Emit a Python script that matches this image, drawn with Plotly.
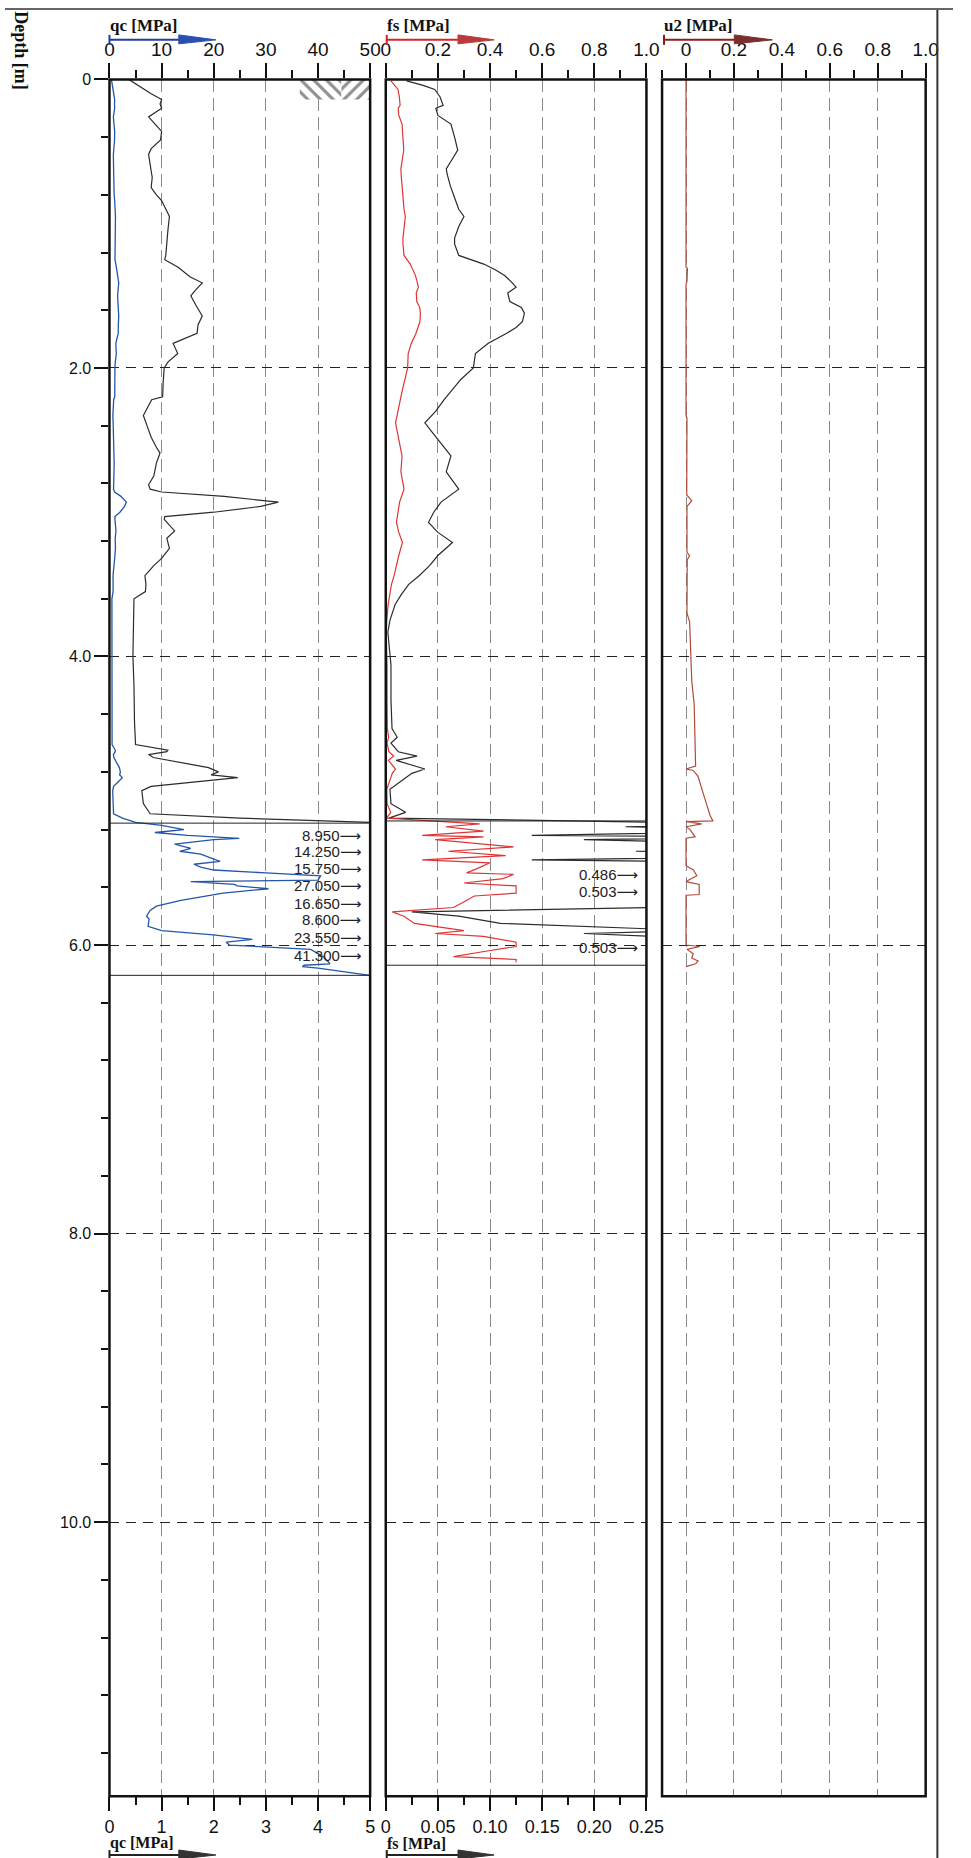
import plotly.graph_objects as go

W, H = 971, 1858

# ---------------- data ----------------
qc_depth = [0.00, 0.03, 0.06, 0.10, 0.14, 0.17, 0.20, 0.26, 0.30, 0.36, 0.42, 0.48, 0.52, 0.60, 0.68,
            0.75, 0.80, 0.84, 0.95, 1.05, 1.15, 1.22, 1.25, 1.30, 1.37, 1.41, 1.46, 1.50, 1.56, 1.64,
            1.70, 1.76, 1.83, 1.90, 1.96, 2.00, 2.10, 2.20, 2.22, 2.30, 2.33, 2.40, 2.48, 2.55, 2.59,
            2.66, 2.75, 2.81, 2.84, 2.86, 2.89, 2.93, 2.96, 3.00, 3.03, 3.05, 3.13, 3.18, 3.25, 3.32,
            3.37, 3.44, 3.50, 3.55, 3.60, 3.80, 4.00, 4.20, 4.29, 4.45, 4.61, 4.65, 4.66, 4.68, 4.70,
            4.77, 4.80, 4.82, 4.84, 4.86, 4.90, 4.93, 5.02, 5.09, 5.12, 5.15, 5.17, 5.20, 5.22, 5.24,
            5.26, 5.27, 5.30, 5.33, 5.35, 5.37, 5.42, 5.44, 5.46, 5.48, 5.50, 5.52, 5.55, 5.56, 5.58,
            5.59, 5.61, 5.64, 5.69, 5.73, 5.76, 5.80, 5.82, 5.87, 5.90, 5.93, 5.96, 5.98, 6.00, 6.03,
            6.08, 6.13, 6.14, 6.15, 6.16, 6.21]
qc_value = [0.37, 0.50, 0.62, 0.80, 1.00, 0.97, 1.00, 0.75, 0.85, 1.00, 0.98, 0.80, 0.75, 0.78, 0.82,
            0.80, 0.90, 1.00, 1.15, 1.12, 1.10, 1.08, 1.06, 1.31, 1.55, 1.78, 1.65, 1.56, 1.65, 1.78,
            1.70, 1.68, 1.22, 1.31, 1.12, 1.05, 1.03, 1.02, 0.81, 0.70, 0.65, 0.72, 0.80, 0.90, 0.97,
            0.90, 0.85, 0.75, 0.78, 1.00, 2.20, 3.24, 2.90, 2.00, 1.06, 1.05, 1.25, 1.10, 1.15, 1.00,
            0.85, 0.68, 0.70, 0.69, 0.47, 0.46, 0.45, 0.47, 0.47, 0.48, 0.50, 1.12, 1.10, 0.75, 0.84,
            1.90, 2.09, 1.95, 2.46, 1.93, 0.80, 0.62, 0.65, 0.78, 2.50, 5.00, 10.0, 14.3, 8.7, 15.0,
            24.9, 20.0, 12.5, 15.6, 13.5, 17.5, 21.2, 16.2, 17.5, 20.0, 30.0, 40.5, 40.0, 15.6, 24.0,
            24.5, 30.5, 21.8, 13.7, 9.0, 7.8, 7.1, 7.6, 7.4, 10.0, 19.9, 27.4, 22.4, 23.0, 38.6,
            41.0, 42.3, 37.3, 37.0, 40.0, 50.0]

fs_depth = [0.01, 0.04, 0.07, 0.12, 0.18, 0.20, 0.25, 0.31, 0.40, 0.49, 0.55, 0.62, 0.66, 0.74, 0.82,
            0.90, 0.95, 1.02, 1.10, 1.14, 1.22, 1.28, 1.32, 1.36, 1.40, 1.44, 1.48, 1.54, 1.58, 1.62,
            1.68, 1.72, 1.76, 1.83, 1.90, 2.00, 2.08, 2.15, 2.22, 2.30, 2.38, 2.45, 2.52, 2.61, 2.72,
            2.80, 2.84, 2.93, 3.00, 3.07, 3.14, 3.21, 3.30, 3.37, 3.44, 3.50, 3.57, 3.64, 3.75, 3.83,
            3.92, 4.06, 4.30, 4.50, 4.56, 4.60, 4.66, 4.69, 4.72, 4.78, 4.81, 4.86, 4.92, 5.02, 5.08,
            5.12, 5.16, 5.18, 5.21, 5.24, 5.25, 5.27, 5.32, 5.35, 5.38, 5.41, 5.43, 5.47, 5.50, 5.51,
            5.54, 5.57, 5.59, 5.64, 5.66, 5.71, 5.74, 5.77, 5.80, 5.85, 5.90, 5.92, 5.94, 5.98, 6.01,
            6.05, 6.08, 6.10, 6.12]
fs_value = [0.020, 0.035, 0.047, 0.052, 0.055, 0.048, 0.050, 0.0625, 0.066, 0.069, 0.064, 0.058, 0.059,
            0.062, 0.066, 0.070, 0.075, 0.070, 0.066, 0.066, 0.070, 0.094, 0.105, 0.114, 0.120, 0.125,
            0.117, 0.119, 0.130, 0.133, 0.131, 0.125, 0.116, 0.098, 0.086, 0.084, 0.072, 0.064, 0.056,
            0.048, 0.0375, 0.045, 0.053, 0.0625, 0.058, 0.066, 0.070, 0.053, 0.046, 0.041, 0.050, 0.064,
            0.050, 0.042, 0.032, 0.022, 0.015, 0.009, 0.004, 0.002, 0.003, 0.005, 0.005, 0.006, 0.011,
            0.005, 0.012, 0.030, 0.010, 0.0375, 0.025, 0.015, 0.004, 0.005, 0.019, 0.003, 0.36, 0.23,
            0.375, 0.14, 0.375, 0.19, 0.49, 0.24, 0.46, 0.14, 0.40, 0.35, 0.31, 0.49, 0.45, 0.30, 0.50,
            0.50, 0.34, 0.29, 0.26, 0.025, 0.07, 0.11, 0.30, 0.19, 0.375, 0.50, 0.50, 0.36, 0.26, 0.50,
            0.50]

u2_depth = [0.00, 1.30, 1.31, 1.40, 1.42, 2.33, 2.35, 2.50, 2.88, 2.92, 2.96, 3.28, 3.30, 3.33, 3.70,
            3.76, 4.17, 4.33, 4.61, 4.76, 4.78, 4.79, 4.83, 4.88, 4.95, 5.02, 5.10, 5.14, 5.145, 5.16,
            5.18, 5.20, 5.22, 5.25, 5.26, 5.45, 5.48, 5.52, 5.56, 5.58, 5.65, 5.655, 6.00, 6.01, 6.03,
            6.06, 6.09, 6.11, 6.13, 6.15]
u2_value = [0.0, 0.0, 0.006, 0.004, 0.0, 0.0, 0.004, 0.003, 0.003, 0.024, 0.004, 0.004, 0.015, 0.005,
            0.004, 0.015, 0.024, 0.034, 0.038, 0.040, 0.0, 0.030, 0.050, 0.058, 0.072, 0.085, 0.100,
            0.112, 0.0, 0.065, 0.0, 0.017, 0.024, 0.038, 0.0, 0.0, 0.031, 0.045, 0.0, 0.055, 0.055,
            0.0, 0.0, 0.058, 0.004, 0.030, 0.024, 0.050, 0.040, 0.0]

# values beyond the expanded scales, printed inside the boxes
qc_label_depth = [5.24, 5.35, 5.47, 5.59, 5.71, 5.82, 5.95, 6.07]
qc_label_text = ["8.950", "14.250", "15.750", "27.050", "16.650", "8.600", "23.550", "41.300"]
fs_label_depth = [5.51, 5.63, 6.02]
fs_label_text = ["0.486", "0.503", "0.503"]
qc_box_depth = [5.155, 6.21]
fs_box_depth = [5.14, 6.14]

# soil symbol at the top of the qc column (qc top scale, depth)
hatch_a_x = [36.5, 44.5, 44.5, 36.5, 36.5]
hatch_b_x = [44.5, 50.0, 50.0, 44.5, 44.5]
hatch_y = [0.0, 0.0, 0.14, 0.14, 0.0]

depth_ticks = [0, 2, 4, 6, 8, 10]
depth_ticktext = ["0", "2.0", "4.0", "6.0", "8.0", "10.0"]
qc_top_ticks = [0, 10, 20, 30, 40, 50]
qc_bot_ticks = [0, 1, 2, 3, 4, 5]
fs_top_ticks = [0, 0.2, 0.4, 0.6, 0.8, 1.0]
fs_top_text = ["0", "0.2", "0.4", "0.6", "0.8", "1.0"]
fs_bot_ticks = [0, 0.05, 0.10, 0.15, 0.20, 0.25]
fs_bot_text = ["0", "0.05", "0.10", "0.15", "0.20", "0.25"]
u2_ticks = [0, 0.2, 0.4, 0.6, 0.8, 1.0]
u2_text = ["0", "0.2", "0.4", "0.6", "0.8", "1.0"]

# ---------------- layout helpers ----------------
def px(x):
    return x / W

def py(y):
    return 1 - y / H

D1 = [px(107), px(374)]
D2 = [px(390), px(657)]
D3 = [px(673), px(943)]
DY = [py(1796), py(71.7)]
DEPTH_MAX = 11.9

TOPFONT = dict(family="Liberation Sans, Arial, sans-serif", size=19, color="#111")
BOTFONT = dict(family="Liberation Sans, Arial, sans-serif", size=18, color="#111")
SERIF = "Liberation Serif, Times New Roman, serif"
BLACK = "#2b2b2b"
BLUE = "#2456a8"
RED = "#e03434"
U2C = "#b04a38"

fig = go.Figure()

fig.add_trace(go.Scatter(x=hatch_a_x, y=hatch_y, xaxis="x2", yaxis="y", mode="none", fill="toself",
                         fillcolor="rgba(255,255,255,0)",
                         fillpattern=dict(shape="\\", fgcolor="#222", bgcolor="white", size=9, solidity=0.35),
                         hoverinfo="skip"))
fig.add_trace(go.Scatter(x=hatch_b_x, y=hatch_y, xaxis="x2", yaxis="y", mode="none", fill="toself",
                         fillcolor="rgba(255,255,255,0)",
                         fillpattern=dict(shape="/", fgcolor="#222", bgcolor="white", size=9, solidity=0.35),
                         hoverinfo="skip"))

fig.add_trace(go.Scatter(x=qc_value, y=qc_depth, xaxis="x", yaxis="y", mode="lines",
                         line=dict(color=BLACK, width=1.2)))
fig.add_trace(go.Scatter(x=qc_value, y=qc_depth, xaxis="x2", yaxis="y", mode="lines",
                         line=dict(color=BLUE, width=1.3)))
fig.add_trace(go.Scatter(x=fs_value, y=fs_depth, xaxis="x3", yaxis="y2", mode="lines",
                         line=dict(color=BLACK, width=1.2)))
fig.add_trace(go.Scatter(x=fs_value, y=fs_depth, xaxis="x4", yaxis="y2", mode="lines",
                         line=dict(color=RED, width=1.2)))
fig.add_trace(go.Scatter(x=u2_value, y=u2_depth, xaxis="x5", yaxis="y3", mode="lines",
                         line=dict(color=U2C, width=1.2)))

def xax(domain, rng, tickvals, ticktext, minor_dtick, side, anchor, grid, overlaying=None, ticklen=14):
    d = dict(domain=domain, range=rng, tickmode="array", tickvals=tickvals, ticktext=ticktext,
             ticks="outside", ticklen=ticklen, tickwidth=1.5, tickcolor="#111", side=side, anchor=anchor,
             showline=False, zeroline=False, tickfont=TOPFONT if side == "top" else BOTFONT,
             fixedrange=True,
             minor=dict(dtick=minor_dtick, tick0=0, ticks="outside", ticklen=8, tickwidth=1.5,
                        tickcolor="#111", showgrid=False),
             showgrid=grid, gridcolor="#8a8a8a", gridwidth=1, griddash="13px,6px")
    if overlaying:
        d["overlaying"] = overlaying
    return d

def yax(domain, anchor, labels):
    return dict(domain=domain, range=[DEPTH_MAX, 0], anchor=anchor, tickmode="array",
                tickvals=depth_ticks, ticktext=depth_ticktext, showticklabels=labels,
                ticks="outside" if labels else "", ticklen=14, tickwidth=1.5, tickcolor="#111",
                tickfont=dict(family="Liberation Sans, Arial, sans-serif", size=16, color="#111"),
                minor=dict(dtick=0.4, tick0=0, ticks="outside" if labels else "", ticklen=7,
                           tickwidth=1.5, tickcolor="#111", showgrid=False),
                showgrid=True, gridcolor="#222", gridwidth=1.3, griddash="10px,7px",
                showline=False, zeroline=False, fixedrange=True)

fig.update_layout(
    width=W, height=H, margin=dict(l=0, r=0, t=0, b=0),
    paper_bgcolor="white", plot_bgcolor="white", showlegend=False,
    xaxis=xax(D1, [0, 5], qc_bot_ticks, [str(v) for v in qc_bot_ticks], 0.5, "bottom", "y", True),
    xaxis2=xax(D1, [0, 50], qc_top_ticks, [str(v) for v in qc_top_ticks], 5, "top", "y", False,
               overlaying="x", ticklen=15),
    xaxis3=xax(D2, [0, 0.25], fs_bot_ticks, fs_bot_text, 0.025, "bottom", "y2", True),
    xaxis4=xax(D2, [0, 1.0], fs_top_ticks, fs_top_text, 0.1, "top", "y2", False,
               overlaying="x3", ticklen=15),
    xaxis5=xax(D3, [-0.1, 1.0], u2_ticks, u2_text, 0.1, "top", "y3", True, ticklen=15),
    yaxis=yax(DY, "x", True),
    yaxis2=yax(DY, "x3", False),
    yaxis3=yax(DY, "x5", False),
)

shapes = []
# panel frames
for xr, yr in (("x", "y"), ("x3", "y2"), ("x5", "y3")):
    shapes.append(dict(type="rect", xref=xr + " domain", yref=yr + " domain", x0=0, x1=1, y0=0, y1=1,
                       line=dict(color="#111", width=2.5), layer="above"))
# boxes around the over-range zones
shapes.append(dict(type="rect", xref="x", yref="y", x0=0, x1=5.0, y0=qc_box_depth[0], y1=qc_box_depth[1],
                   line=dict(color="#222", width=1)))
shapes.append(dict(type="rect", xref="x3", yref="y2", x0=0, x1=0.25, y0=fs_box_depth[0], y1=fs_box_depth[1],
                   line=dict(color="#222", width=1)))
# outer frame of the sheet
shapes.append(dict(type="line", xref="paper", yref="paper", x0=px(955), x1=px(955), y0=0, y1=1,
                   line=dict(color="#333", width=2)))
shapes.append(dict(type="line", xref="paper", yref="paper", x0=0, x1=1, y0=py(1), y1=py(1),
                   line=dict(color="#666", width=2)))

def header_arrow(x0, x1, xh, yc, line_col, head_col):
    out = [
        dict(type="line", xref="paper", yref="paper", x0=px(x0), x1=px(x0), y0=py(yc - 5), y1=py(yc + 5),
             line=dict(color=line_col, width=2)),
        dict(type="line", xref="paper", yref="paper", x0=px(x0), x1=px(xh + 4), y0=py(yc), y1=py(yc),
             line=dict(color=line_col, width=2)),
        dict(type="path", xref="paper", yref="paper",
             path=f"M {px(xh)},{py(yc - 5)} L {px(x1)},{py(yc)} L {px(xh)},{py(yc + 4)} Z",
             fillcolor=head_col, line=dict(color=head_col, width=1)),
    ]
    return out

shapes += header_arrow(107, 216, 178, 32, "#1f3f9c", "#2a4fb0")
shapes += header_arrow(391, 501, 464, 32, "#d42424", "#b83a3a")
shapes += header_arrow(675, 786, 747, 32, "#8e1c1c", "#7a2e2e")
shapes += header_arrow(107, 216, 178, 1855, "#222", "#333")
shapes += header_arrow(391, 501, 464, 1855, "#222", "#333")
fig.update_layout(shapes=shapes)

ann = []
def title(text, x, y, size=17):
    return dict(text=f"<b>{text}</b>", xref="paper", yref="paper", x=px(x), y=py(y), xanchor="left",
                yanchor="middle", showarrow=False, font=dict(family=SERIF, size=size, color="#111"))

ann.append(title("qc [MPa]", 105, 18))
ann.append(title("fs [MPa]", 389, 18))
ann.append(title("u2 [MPa]", 673, 18))
ann.append(title("qc [MPa]", 105, 1843, 16))
ann.append(title("fs [MPa]", 389, 1843, 16))
ann.append(dict(text="<b>Depth [m]</b>", xref="paper", yref="paper", x=px(17), y=py(43), textangle=90,
                showarrow=False, xanchor="center", yanchor="middle",
                font=dict(family=SERIF, size=18, color="#111")))

LABFONT = dict(family="Liberation Sans, DejaVu Sans, Arial, sans-serif", size=15, color="#222")
for d, t in zip(qc_label_depth, qc_label_text):
    ann.append(dict(text=t + "⟶", xref="x", yref="y", x=4.87, y=d, xanchor="right", yanchor="middle",
                    showarrow=False, font=LABFONT))
for d, t in zip(fs_label_depth, fs_label_text):
    ann.append(dict(text=t + "⟶", xref="x3", yref="y2", x=0.2434, y=d, xanchor="right", yanchor="middle",
                    showarrow=False, font=LABFONT))
fig.update_layout(annotations=ann)

fig.write_html("out.html", config=dict(displayModeBar=False),
               post_script="document.body.style.margin='0';document.body.style.overflow='hidden';")
